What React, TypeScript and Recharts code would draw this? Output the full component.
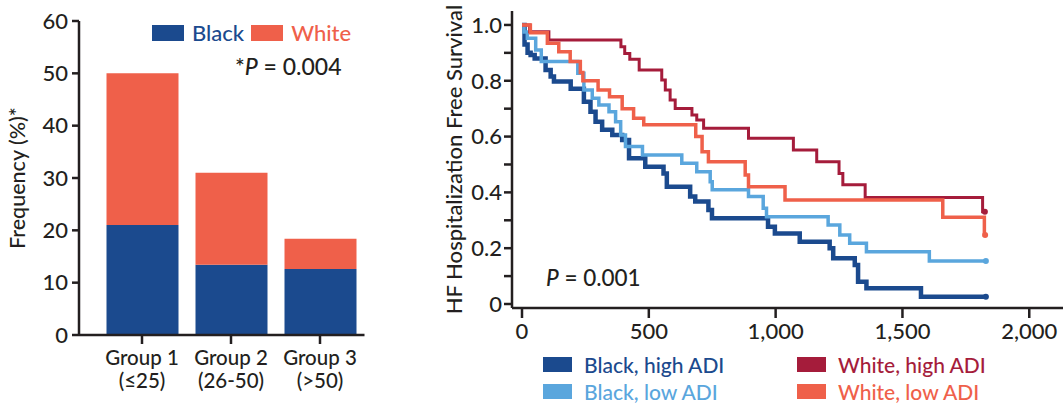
import React from 'react';
import { BarChart, Bar, LineChart, Line, XAxis, YAxis, Legend } from 'recharts';

const groups = ['Group 1', 'Group 2', 'Group 3'];
const groupRanges = ['(≤25)', '(26-50)', '(>50)'];
const blackFreq = [21, 13.4, 12.6];
const whiteFreq = [29, 17.6, 5.8];
const freqTicks = [0, 10, 20, 30, 40, 50, 60];

// Kaplan-Meier steps, days / survival
const blackHighDays = [0, 10, 22, 34, 50, 93, 113, 126, 192, 244, 270, 290, 316, 356, 395, 422, 486, 558, 571, 663, 683, 735, 749, 970, 997, 1095, 1213, 1227, 1312, 1325, 1358, 1573, 1829];
const blackHighSurv = [1.0, 0.93, 0.9, 0.892, 0.88, 0.839, 0.815, 0.797, 0.771, 0.725, 0.689, 0.653, 0.624, 0.606, 0.588, 0.522, 0.492, 0.468, 0.42, 0.385, 0.367, 0.337, 0.307, 0.277, 0.253, 0.223, 0.2, 0.164, 0.14, 0.08, 0.056, 0.026, 0.026];
const blackLowDays = [0, 8, 21, 54, 76, 220, 244, 277, 303, 343, 369, 389, 408, 475, 630, 689, 742, 750, 893, 951, 964, 1207, 1253, 1292, 1358, 1606, 1829];
const blackLowSurv = [1.0, 0.975, 0.952, 0.91, 0.869, 0.827, 0.767, 0.737, 0.713, 0.689, 0.653, 0.606, 0.564, 0.534, 0.504, 0.474, 0.438, 0.409, 0.385, 0.343, 0.313, 0.283, 0.247, 0.218, 0.187, 0.154, 0.154];
const whiteHighDays = [0, 30, 106, 390, 405, 425, 462, 551, 565, 584, 604, 670, 689, 716, 893, 1070, 1162, 1250, 1265, 1353, 1816, 1825];
const whiteHighSurv = [1.0, 0.976, 0.946, 0.922, 0.898, 0.877, 0.839, 0.803, 0.767, 0.731, 0.701, 0.677, 0.659, 0.63, 0.594, 0.552, 0.51, 0.468, 0.427, 0.382, 0.331, 0.331];
const whiteLowDays = [0, 33, 100, 145, 190, 230, 240, 300, 345, 395, 440, 480, 685, 710, 735, 880, 893, 1037, 1659, 1823, 1826];
const whiteLowSurv = [1.0, 0.972, 0.934, 0.904, 0.869, 0.83, 0.8, 0.767, 0.743, 0.7, 0.666, 0.642, 0.6, 0.546, 0.51, 0.462, 0.42, 0.373, 0.311, 0.247, 0.247];

const dayTicks = [0, 500, 1000, 1500, 2000];
const survTicks = [0, 0.1, 0.2, 0.3, 0.4, 0.5, 0.6, 0.7, 0.8, 0.9, 1.0];

const INK = '#231f20';
const DARK_BLUE = '#1b4a8e';
const LIGHT_BLUE = '#5aa6dd';
const DARK_RED = '#a51c3b';
const CORAL = '#ef604a';
const FONT = 'Lato, "Open Sans", sans-serif';
const WEIGHT = 500;

const barData = groups.map((group, i) => ({
  group,
  black: blackFreq[i],
  white: whiteFreq[i],
}));

const toPoints = (days: number[], surv: number[]) =>
  days.map((t, i) => ({ t, s: surv[i] }));

const series = [
  { name: 'Black, high ADI', color: DARK_BLUE, width: 4.5, data: toPoints(blackHighDays, blackHighSurv) },
  { name: 'Black, low ADI', color: LIGHT_BLUE, width: 3.5, data: toPoints(blackLowDays, blackLowSurv) },
  { name: 'White, high ADI', color: DARK_RED, width: 3, data: toPoints(whiteHighDays, whiteHighSurv) },
  { name: 'White, low ADI', color: CORAL, width: 3.5, data: toPoints(whiteLowDays, whiteLowSurv) },
];

const axisLine = { stroke: INK, strokeWidth: 2.5 };
const tickText = { fill: INK, fontSize: 22, fontFamily: FONT, fontWeight: WEIGHT };

const GroupTick = (props: any) => {
  const { x, y, payload, index } = props;
  return (
    <text x={x} y={y} textAnchor="middle" fill={INK} fontSize={20.5} fontFamily={FONT} fontWeight={WEIGHT}>
      <tspan x={x} dy={19}>{payload.value}</tspan>
      <tspan x={x} dy={23}>{groupRanges[index]}</tspan>
    </text>
  );
};

const RaceLegend = ({ payload }: any) => (
  <div style={{ display: 'flex', alignItems: 'center', fontFamily: FONT, fontSize: 22, fontWeight: WEIGHT }}>
    {(payload || []).map((entry: any) => (
      <span key={entry.value} style={{ display: 'flex', alignItems: 'center', marginRight: 7, color: entry.color }}>
        <span style={{ width: 32, height: 16, background: entry.color, marginRight: 8 }} />
        {entry.value}
      </span>
    ))}
  </div>
);

const GroupLegend = ({ payload }: any) => (
  <div
    style={{
      display: 'grid',
      gridTemplateColumns: '254px auto',
      gridTemplateRows: '27px 27px',
      gridAutoFlow: 'column',
      fontFamily: FONT,
      fontSize: 21,
      fontWeight: WEIGHT,
      lineHeight: '22px',
    }}
  >
    {(payload || []).map((entry: any) => (
      <span key={entry.value} style={{ display: 'flex', alignItems: 'center', color: entry.color }}>
        <span style={{ width: 29, height: 15, background: entry.color, marginRight: 12 }} />
        {entry.value}
      </span>
    ))}
  </div>
);

const endDot = (color: string, last: number) => (props: any) =>
  props.index === last ? (
    <circle key={props.index} cx={props.cx} cy={props.cy} r={3} fill={color} />
  ) : (
    <g key={props.index} />
  );

const survLabel = (v: number) => {
  const tenth = Math.round(v * 10);
  if (tenth % 2 !== 0) return '';
  return tenth === 0 ? '0' : v.toFixed(1);
};

const App = () => (
  <div
    style={{
      position: 'absolute',
      left: 0,
      top: 0,
      width: 1063,
      height: 403,
      background: '#fff',
      overflow: 'hidden',
      fontFamily: FONT,
      fontWeight: WEIGHT,
      color: INK,
    }}
  >
    <div style={{ position: 'absolute', left: 0, top: 0 }}>
      <BarChart width={370} height={403} data={barData} margin={{ top: 21, right: 5.5, bottom: 0, left: 0 }}>
        <XAxis
          dataKey="group"
          height={68}
          interval={0}
          padding={{ left: 18.5, right: 0 }}
          tick={<GroupTick />}
          tickSize={9}
          tickLine={axisLine}
          axisLine={axisLine}
        />
        <YAxis
          width={79}
          domain={[0, 60]}
          ticks={freqTicks}
          tickSize={7}
          tickMargin={4}
          tickLine={axisLine}
          axisLine={axisLine}
          tick={tickText}
          label={{
            value: 'Frequency (%)*',
            angle: -90,
            position: 'insideLeft',
            offset: 17,
            style: { textAnchor: 'middle', fontSize: 21.5, fill: INK, fontFamily: FONT, fontWeight: WEIGHT },
          }}
        />
        <Legend
          layout="vertical"
          align="center"
          verticalAlign="middle"
          wrapperStyle={{ top: 19, left: 152, width: 220, height: 24 }}
          content={<RaceLegend />}
        />
        <Bar dataKey="black" name="Black" stackId="race" fill={DARK_BLUE} barSize={72} isAnimationActive={false} />
        <Bar dataKey="white" name="White" stackId="race" fill={CORAL} barSize={72} isAnimationActive={false} />
      </BarChart>
      <div style={{ position: 'absolute', left: 235, top: 55, fontSize: 23, lineHeight: '23px', whiteSpace: 'nowrap' }}>
        *<i>P</i> = 0.004
      </div>
    </div>

    <div style={{ position: 'absolute', left: 440, top: 0 }}>
      <LineChart width={623} height={403} margin={{ top: 11, right: 0, bottom: 65, left: 0 }}>
        <XAxis
          type="number"
          dataKey="t"
          domain={[0, 2133]}
          allowDataOverflow
          ticks={dayTicks}
          padding={{ left: 10, right: 0 }}
          height={30}
          tickSize={10}
          tickMargin={5}
          tickLine={axisLine}
          axisLine={axisLine}
          tickFormatter={(v: number) => v.toLocaleString('en-US')}
          tick={tickText}
        />
        <YAxis
          type="number"
          dataKey="s"
          domain={[0, 1.05]}
          allowDataOverflow
          ticks={survTicks}
          padding={{ top: 0, bottom: 4 }}
          width={72}
          tickSize={8}
          tickMargin={2}
          tickLine={axisLine}
          axisLine={axisLine}
          tickFormatter={survLabel}
          tick={tickText}
          label={{
            value: 'HF Hospitalization Free Survival',
            angle: -90,
            position: 'insideLeft',
            offset: 14,
            style: { textAnchor: 'middle', fontSize: 22, fill: INK, fontFamily: FONT, fontWeight: WEIGHT },
          }}
        />
        <Legend
          layout="vertical"
          align="center"
          verticalAlign="middle"
          wrapperStyle={{ top: 351, left: 103, width: 480, height: 54 }}
          content={<GroupLegend />}
        />
        {series.map((ser) => (
          <Line
            key={ser.name}
            name={ser.name}
            data={ser.data}
            dataKey="s"
            type="stepAfter"
            stroke={ser.color}
            strokeWidth={ser.width}
            dot={endDot(ser.color, ser.data.length - 1)}
            activeDot={false}
            isAnimationActive={false}
          />
        ))}
      </LineChart>
      <div style={{ position: 'absolute', left: 106, top: 267, fontSize: 22.5, lineHeight: '22px', whiteSpace: 'nowrap' }}>
        <i>P</i> = 0.001
      </div>
    </div>
  </div>
);

export default App;
